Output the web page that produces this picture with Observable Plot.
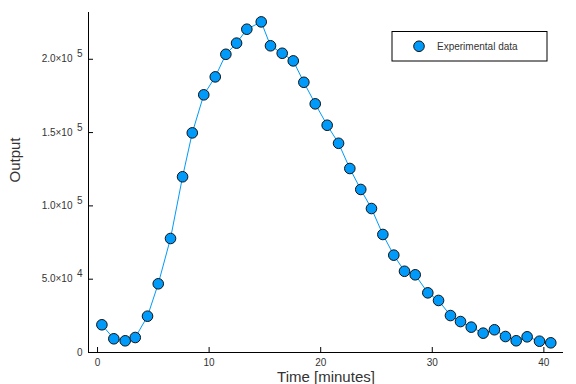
<!DOCTYPE html>
<html>
<head>
<meta charset="utf-8">
<script src="https://cdn.jsdelivr.net/npm/d3@7"></script>
<script src="https://cdn.jsdelivr.net/npm/@observablehq/plot@0.6"></script>
<style>
  html, body { margin: 0; padding: 0; background: #fff; }
  #chart svg { display: block; font-family: "Liberation Sans", Arial, Helvetica, sans-serif; }
</style>
</head>
<body>
<div id="chart"></div>
<script>
// Data
const times = [0.39, 1.46, 2.48, 3.38, 4.48, 5.44, 6.54, 7.62, 8.49, 9.52, 10.55, 11.5, 12.46, 13.38, 14.67, 15.5, 16.55, 17.54, 18.49, 19.51, 20.58, 21.6, 22.61, 23.59, 24.55, 25.57, 26.55, 27.51, 28.47, 29.6, 30.56, 31.63, 32.53, 33.49, 34.56, 35.57, 36.56, 37.52, 38.5, 39.61, 40.62];
const outputs = [18900, 9350, 7980, 10230, 24760, 46860, 77760, 119850, 149800, 175750, 188000, 203400, 211000, 220500, 225500, 209200, 204100, 198900, 184300, 169600, 155000, 142700, 125500, 111200, 98200, 80500, 66400, 55400, 53000, 40700, 35500, 25200, 21100, 17300, 13200, 15500, 10900, 8000, 10700, 7700, 6600];

const xTicks = [0, 10, 20, 30, 40];
const yTicks = [0, 50000, 100000, 150000, 200000];
const yTickBase = ["0", "5.0×10", "1.0×10", "1.5×10", "2.0×10"];
const yTickExp = ["", "4", "5", "5", "5"];
const xLabel = "Time [minutes]";
const yLabel = "Output";
const seriesName = "Experimental data";

const xDomain = [-0.81, 41.76];
const yDomain = [0, 231900];

const data = times.map((t, i) => ({t, v: outputs[i]}));
const yTickData = yTicks.map((v, i) => ({v, base: yTickBase[i], exp: yTickExp[i]}));

const W = 576, H = 384;
const mL = 88, mR = 13, mT = 12, mB = 32;
const color = "#009AFA";
const textColor = "#333";

const chart = Plot.plot({
  width: W, height: H,
  marginLeft: mL, marginRight: mR, marginTop: mT, marginBottom: mB,
  style: {fontSize: "10px", color: textColor, background: "white"},
  x: {domain: xDomain, axis: null},
  y: {domain: yDomain, axis: null},
  marks: [
    Plot.line(data, {x: "t", y: "v", stroke: color, strokeWidth: 1}),
    Plot.dot(data, {x: "t", y: "v", r: 5.3, fill: color, stroke: "#111", strokeWidth: 1}),
    // axis lines
    Plot.ruleX([xDomain[0]], {stroke: "black", strokeWidth: 1}),
    Plot.ruleY([yDomain[0]], {stroke: "black", strokeWidth: 1}),
    // inward ticks
    Plot.tickX(xTicks, {x: d => d, stroke: "black", insetTop: H - mT - mB - 5}),
    Plot.tickY(yTicks, {y: d => d, stroke: "black", insetRight: W - mL - mR - 5}),
    // x tick labels
    Plot.text(xTicks, {x: d => d, text: d => String(d), frameAnchor: "bottom", lineAnchor: "top", dy: 6, fill: textColor, fontSize: 10}),
    // y tick labels
    Plot.text(yTickData.filter(d => d.exp !== ""), {y: "v", text: "base", frameAnchor: "left", textAnchor: "end", dx: -16, fill: textColor, fontSize: 10}),
    Plot.text(yTickData.filter(d => d.exp !== ""), {y: "v", text: "exp", frameAnchor: "left", textAnchor: "end", dx: -6, dy: -5, fill: textColor, fontSize: 10}),
    Plot.text(yTickData.filter(d => d.exp === ""), {y: "v", text: "base", frameAnchor: "left", textAnchor: "end", dx: -6, fill: textColor, fontSize: 10}),
    // axis labels
    Plot.text([xLabel], {text: d => d, frameAnchor: "bottom", lineAnchor: "top", dy: 19, fill: textColor, fontSize: 15}),
    Plot.text([yLabel], {text: d => d, frameAnchor: "left", rotate: -90, dx: -73, fill: textColor, fontSize: 15})
  ]
});

// legend (inside top-right of the plot area)
const svg = d3.select(chart);
const lg = svg.append("g").attr("class", "legend");
const lx = 392, ly = 31.5, lw = 155, lh = 29.5;
lg.append("rect").attr("x", lx).attr("y", ly).attr("width", lw).attr("height", lh)
  .attr("fill", "white").attr("stroke", "black").attr("stroke-width", 1);
lg.append("circle").attr("cx", lx + 27).attr("cy", ly + lh / 2).attr("r", 5.3)
  .attr("fill", color).attr("stroke", "#111").attr("stroke-width", 1);
lg.append("text").attr("x", lx + 45).attr("y", ly + lh / 2).attr("dy", "0.35em")
  .attr("text-anchor", "start").attr("font-size", 10).attr("fill", textColor).text(seriesName);

document.getElementById("chart").appendChild(chart);
</script>
</body>
</html>
